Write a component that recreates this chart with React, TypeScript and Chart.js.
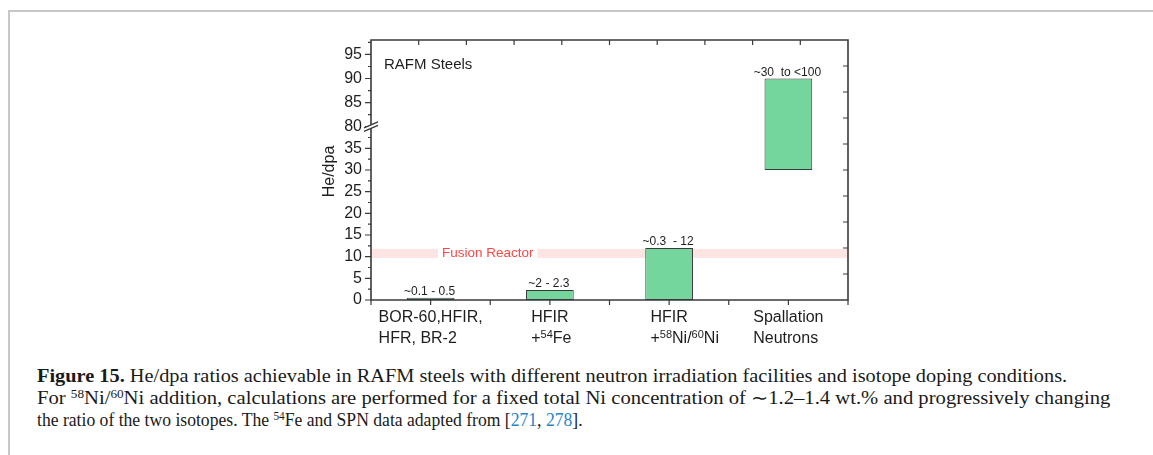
import React, { useEffect, useLayoutEffect, useRef } from 'react';
import { Chart, LinearScale, registerables } from 'chart.js';

// ---- data ----
// category labels, one string per line; "^nn" marks a superscript
const categories: string[][] = [
  ['BOR-60,HFIR,', 'HFR, BR-2'],
  ['HFIR', '+^54Fe'],
  ['HFIR', '+^58Ni/^60Ni'],
  ['Spallation', 'Neutrons'],
];
const heDpaLow = [0, 0, 0, 30];
const heDpaHigh = [0.5, 2.3, 12, 90];
const rangeLabels = ['~0.1 - 0.5', '~2 - 2.3', '~0.3  - 12', '~30  to <100'];

const lowerTickValues = [0, 5, 10, 15, 20, 25, 30, 35];
const upperTickValues = [80, 85, 90, 95];
const lowerMinorTicks = [2.5, 7.5, 12.5, 17.5, 22.5, 27.5, 32.5, 37.5];
const upperMinorTicks = [82.5, 87.5, 92.5, 97.5];

const yMin = 0;
const yMax = 98;
const breakFrom = 40;
const breakTo = 80;
const fusionBand = [9.7, 11.8];
const fusionLabel = 'Fusion Reactor';
const panelLabel = 'RAFM Steels';
const yTitle = 'He/dpa';

// share of the plot height given to the part below the break
const LOWER_SHARE = 2 / 3;

const SANS = '"Liberation Sans", Arial, sans-serif';
const AXIS_COLOR = '#3a3a3a';
const TEXT_COLOR = '#1e1e1e';

// Linear axis with a gap between breakFrom and breakTo
class BrokenAxisScale extends LinearScale {
  static id = 'brokenAxis';
  static defaults = LinearScale.defaults;

  breakPixel(): number {
    return this.bottom - (this.bottom - this.top) * LOWER_SHARE;
  }

  getPixelForValue(value: number): number {
    const bp = this.breakPixel();
    if (value <= breakFrom) {
      return this.bottom - ((value - yMin) / (breakFrom - yMin)) * (this.bottom - bp);
    }
    if (value >= breakTo) {
      return bp - ((value - breakTo) / (yMax - breakTo)) * (bp - this.top);
    }
    return bp;
  }

  getValueForPixel(pixel: number): number {
    const bp = this.breakPixel();
    if (pixel >= bp) {
      return yMin + ((this.bottom - pixel) / (this.bottom - bp)) * (breakFrom - yMin);
    }
    return breakTo + ((bp - pixel) / (bp - this.top)) * (yMax - breakTo);
  }

  buildTicks() {
    return [...lowerTickValues, ...upperTickValues].map((value) => ({ value }));
  }
}

Chart.register(...registerables, BrokenAxisScale);

// split "+^58Ni/^60Ni" into normal and superscript runs
function parseRuns(text: string): { t: string; sup: boolean }[] {
  const runs: { t: string; sup: boolean }[] = [];
  const re = /\^(\d+)/g;
  let last = 0;
  let m: RegExpExecArray | null;
  while ((m = re.exec(text))) {
    if (m.index > last) runs.push({ t: text.slice(last, m.index), sup: false });
    runs.push({ t: m[1], sup: true });
    last = m.index + m[0].length;
  }
  if (last < text.length) runs.push({ t: text.slice(last), sup: false });
  return runs;
}

const BASE_FONT = `16px ${SANS}`;
const SUP_FONT = `11px ${SANS}`;

function runsWidth(ctx: CanvasRenderingContext2D, runs: { t: string; sup: boolean }[]) {
  return runs.reduce((w, r) => {
    ctx.font = r.sup ? SUP_FONT : BASE_FONT;
    return w + ctx.measureText(r.t).width;
  }, 0);
}

const frame = {
  id: 'frame',
  beforeDatasetsDraw(chart: any) {
    const { ctx, chartArea: a, scales } = chart;
    const y = scales.y;
    const top = y.getPixelForValue(fusionBand[1]);
    const bot = y.getPixelForValue(fusionBand[0]);
    ctx.save();
    ctx.fillStyle = 'rgba(255, 196, 196, 0.45)';
    ctx.fillRect(a.left, top, a.right - a.left, bot - top);
    ctx.font = `13.5px ${SANS}`;
    const w = ctx.measureText(fusionLabel).width;
    const tx = a.left + 71;
    ctx.fillStyle = '#ffffff';
    ctx.fillRect(tx - 4, top - 0.5, w + 8, bot - top + 1);
    ctx.fillStyle = '#ff4545';
    ctx.textBaseline = 'middle';
    ctx.textAlign = 'left';
    ctx.fillText(fusionLabel, tx, (top + bot) / 2);
    ctx.restore();
  },
  afterDatasetsDraw(chart: any) {
    const { ctx, chartArea: a, scales } = chart;
    const x = scales.x;
    const y = scales.y;
    ctx.save();
    ctx.strokeStyle = AXIS_COLOR;
    ctx.lineWidth = 1.6;
    ctx.lineCap = 'butt';

    // frame
    ctx.beginPath();
    ctx.rect(a.left, a.top, a.right - a.left, a.bottom - a.top);
    ctx.stroke();

    ctx.lineWidth = 1.2;
    ctx.beginPath();
    // left axis ticks, outward
    lowerTickValues.concat(upperTickValues).forEach((v) => {
      const py = y.getPixelForValue(v);
      ctx.moveTo(a.left - 6, py);
      ctx.lineTo(a.left, py);
    });
    lowerMinorTicks.concat(upperMinorTicks).forEach((v) => {
      const py = y.getPixelForValue(v);
      ctx.moveTo(a.left - 3, py);
      ctx.lineTo(a.left, py);
    });
    // bottom axis ticks at category centres and boundaries
    for (let i = -0.5; i <= categories.length - 0.5 + 1e-9; i += 0.5) {
      const px = x.getPixelForValue(i);
      ctx.moveTo(px, a.bottom);
      ctx.lineTo(px, a.bottom + 5);
    }
    // top and right axis ticks, inward
    for (let k = 1; k < 10; k++) {
      const px = a.left + ((a.right - a.left) * k) / 10;
      ctx.moveTo(px, a.top);
      ctx.lineTo(px, a.top + 5);
      const py = a.bottom - ((a.bottom - a.top) * k) / 10;
      ctx.moveTo(a.right, py);
      ctx.lineTo(a.right - 5, py);
    }
    ctx.stroke();

    // axis break marks
    const bp = y.breakPixel();
    const x0 = a.left - 7;
    const x1 = a.left + 7;
    const s = 3;
    const g = 1.7;
    ctx.fillStyle = '#ffffff';
    ctx.beginPath();
    ctx.moveTo(x0, bp + g + s);
    ctx.lineTo(x1, bp + g - s);
    ctx.lineTo(x1, bp - g - s);
    ctx.lineTo(x0, bp - g + s);
    ctx.closePath();
    ctx.fill();
    ctx.lineWidth = 1.3;
    ctx.beginPath();
    ctx.moveTo(x0, bp + g + s);
    ctx.lineTo(x1, bp + g - s);
    ctx.moveTo(x0, bp - g + s);
    ctx.lineTo(x1, bp - g - s);
    ctx.stroke();

    ctx.fillStyle = TEXT_COLOR;

    // category labels: first line centred on the category, second line aligned to its start
    ctx.textAlign = 'left';
    ctx.textBaseline = 'alphabetic';
    categories.forEach((lines, i) => {
      const cx = x.getPixelForValue(i);
      const firstRuns = parseRuns(lines[0]);
      const left = cx - runsWidth(ctx, firstRuns) / 2;
      lines.forEach((line, li) => {
        const base = a.bottom + 22 + li * 21;
        let px = left;
        parseRuns(line).forEach((r) => {
          ctx.font = r.sup ? SUP_FONT : BASE_FONT;
          ctx.fillText(r.t, px, r.sup ? base - 5.5 : base);
          px += ctx.measureText(r.t).width;
        });
      });
    });

    // range labels above the bars
    const meta = chart.getDatasetMeta(0);
    ctx.font = `12px ${SANS}`;
    ctx.textAlign = 'center';
    meta.data.forEach((bar: any, i: number) => {
      ctx.fillText(rangeLabels[i], bar.x - 1, bar.y - 3);
    });

    // panel label
    ctx.font = `15px ${SANS}`;
    ctx.textAlign = 'left';
    ctx.fillText(panelLabel, a.left + 13, a.top + 29);

    // y title
    ctx.font = `16px ${SANS}`;
    ctx.translate(a.left - 37, (a.top + a.bottom) / 2 + 1.5);
    ctx.rotate(-Math.PI / 2);
    ctx.textAlign = 'center';
    ctx.fillText(yTitle, 0, 0);
    ctx.restore();
  },
};

const captionStyle: React.CSSProperties = {
  position: 'absolute',
  left: 37,
  whiteSpace: 'nowrap',
  display: 'inline-block',
  fontFamily: '"Liberation Serif", "Times New Roman", serif',
  fontSize: 18,
  lineHeight: '20px',
  color: '#1a1a1a',
  transformOrigin: 'left center',
};
const supStyle: React.CSSProperties = { fontSize: '0.64em', verticalAlign: '0.5em', lineHeight: 0 };
const refStyle: React.CSSProperties = { color: '#2a84c6' };

// run length of each caption line
const captionWidths = [1030, 1073, 546];

export default function App() {
  const canvasRef = useRef<HTMLCanvasElement>(null);
  const lineRefs = useRef<(HTMLSpanElement | null)[]>([]);

  useLayoutEffect(() => {
    const fit = () => {
      lineRefs.current.forEach((el, i) => {
        if (!el) return;
        el.style.transform = 'none';
        const w = el.scrollWidth || el.getBoundingClientRect().width;
        if (w > 0) el.style.transform = `scaleX(${captionWidths[i] / w})`;
      });
    };
    fit();
    let alive = true;
    if ((document as any).fonts && (document as any).fonts.ready) {
      (document as any).fonts.ready.then(() => alive && fit());
    }
    const raf = requestAnimationFrame(() => alive && fit());
    return () => {
      alive = false;
      cancelAnimationFrame(raf);
    };
  }, []);

  useEffect(() => {
    if (!canvasRef.current) return;
    const chart = new Chart(canvasRef.current, {
      type: 'bar',
      data: {
        labels: categories.map((c) => c.map((l) => l.replace(/\^/g, ''))),
        datasets: [
          {
            data: heDpaLow.map((lo, i) => [lo, heDpaHigh[i]]),
            backgroundColor: '#74d69d',
            borderColor: '#3a3a3a',
            borderWidth: 1,
            borderSkipped: false,
            barPercentage: 0.4,
            categoryPercentage: 1,
          },
        ],
      },
      options: {
        responsive: false,
        animation: false,
        events: [],
        layout: { padding: { left: 311, right: 305, top: 40, bottom: 10 } },
        plugins: { legend: { display: false }, tooltip: { enabled: false } },
        scales: {
          x: {
            type: 'category',
            offset: true,
            grid: { display: false },
            border: { display: false },
            ticks: { display: false },
            afterFit: (s: any) => {
              s.height = 50;
            },
          },
          y: {
            type: 'brokenAxis',
            min: yMin,
            max: yMax,
            grid: { display: false, tickLength: 6 },
            border: { display: false },
            ticks: {
              autoSkip: false,
              padding: 3,
              color: TEXT_COLOR,
              font: { family: SANS, size: 16 },
              callback: (v: any) => String(v),
            },
            afterFit: (s: any) => {
              s.width = 60;
            },
          },
        } as any,
      },
      plugins: [frame],
    });
    return () => chart.destroy();
  }, []);

  return (
    <div style={{ position: 'fixed', left: 0, top: 0, width: 1153, height: 455, overflow: 'hidden', background: '#fff' }}>
      <div
        style={{
          position: 'absolute',
          left: 8,
          top: 10,
          width: 1300,
          height: 600,
          borderTop: '2px solid #c8c8c8',
          borderLeft: '2px solid #c8c8c8',
        }}
      />
      <canvas ref={canvasRef} width={1153} height={360} style={{ position: 'absolute', left: 0, top: 0 }} />
      <span ref={(el) => (lineRefs.current[0] = el)} style={{ ...captionStyle, top: 366 }}>
        <b>Figure 15.</b> He/dpa ratios achievable in RAFM steels with different neutron irradiation facilities and isotope doping conditions.
      </span>
      <span ref={(el) => (lineRefs.current[1] = el)} style={{ ...captionStyle, top: 388 }}>
        For <sup style={supStyle}>58</sup>Ni/<sup style={supStyle}>60</sup>Ni addition, calculations are performed for a fixed total Ni concentration of ∼1.2–1.4 wt.% and progressively changing
      </span>
      <span ref={(el) => (lineRefs.current[2] = el)} style={{ ...captionStyle, top: 410 }}>
        the ratio of the two isotopes. The <sup style={supStyle}>54</sup>Fe and SPN data adapted from [<span style={refStyle}>271</span>, <span style={refStyle}>278</span>].
      </span>
    </div>
  );
}
